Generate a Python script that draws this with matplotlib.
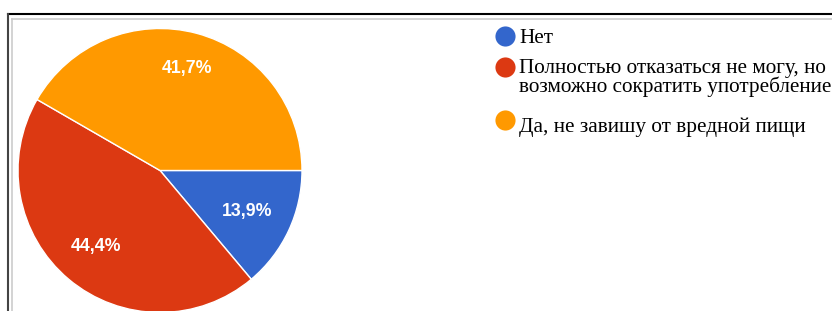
import matplotlib
matplotlib.use("Agg")
import numpy as np
import matplotlib.pyplot as plt
from matplotlib.lines import Line2D

# Данные опроса
categories = ["Нет",
              "Полностью отказаться не могу, но\nвозможно сократить употребление",
              "Да, не завишу от вредной пищи"]
counts = [5, 16, 15]
colors = ["#3366CC", "#DC3912", "#FF9900"]

W, H = 832, 311
fig = plt.figure(figsize=(W / 100, H / 100), dpi=100)
fig.patch.set_facecolor("white")

# Оси для круговой диаграммы (центр ~ (160, 170.5), радиус ~142 px)
cx, cy, r = 160, 170.5, 142
ax = fig.add_axes([(cx - r) / W, (H - cy - r) / H, 2 * r / W, 2 * r / H])
wedges, texts, autotexts = ax.pie(
    counts, colors=colors, startangle=0, counterclock=False,
    autopct=lambda p: f"{p:.1f}%".replace(".", ","), pctdistance=0.71,
    wedgeprops=dict(edgecolor="white", linewidth=1),
    textprops=dict(color="white", fontsize=12.8, fontweight="bold",
                   family="Liberation Sans"))
# подписи чуть на разном расстоянии от центра, как в оригинале
label_dist = [0.68, 0.70, 0.745]
for w, t, d in zip(wedges, autotexts, label_dist):
    w.set_clip_on(False)
    ang = np.deg2rad((w.theta1 + w.theta2) / 2)
    t.set_position((d * np.cos(ang), d * np.sin(ang)))
ax.set_xlim(-1, 1)
ax.set_ylim(-1, 1)
ax.set_aspect("equal")
ax.axis("off")

# Оверлей в пиксельных координатах: рамка и легенда
ov = fig.add_axes([0, 0, 1, 1], zorder=-1)
ov.set_xlim(0, W)
ov.set_ylim(H, 0)
ov.axis("off")
ov.add_line(Line2D([8, W], [14, 14], color="black", lw=1.5))
ov.add_line(Line2D([8, 8], [14, H], color="#444444", lw=1.5))
ov.add_line(Line2D([11.5, W], [18.5, 18.5], color="#cccccc", lw=1.2))
ov.add_line(Line2D([11.5, 11.5], [18.5, H], color="#cccccc", lw=1.2))

leg = fig.add_axes([0, 0, 1, 1], zorder=2)
leg.set_xlim(0, W)
leg.set_ylim(H, 0)
leg.axis("off")
marker_y = [36, 67, 120]
baseline_y = [42.7, 72.7, 131.7]
line_step = 19
for c, lab, my, by in zip(colors, categories, marker_y, baseline_y):
    leg.plot([505], [my], "o", color=c, markersize=14.5, markeredgewidth=0)
    for i, line in enumerate(lab.split("\n")):
        leg.text(519, by + i * line_step, line, fontsize=15.3,
                 family="Liberation Serif", va="baseline", ha="left",
                 color="black", clip_on=False)

fig.savefig("out.png", dpi=100)
